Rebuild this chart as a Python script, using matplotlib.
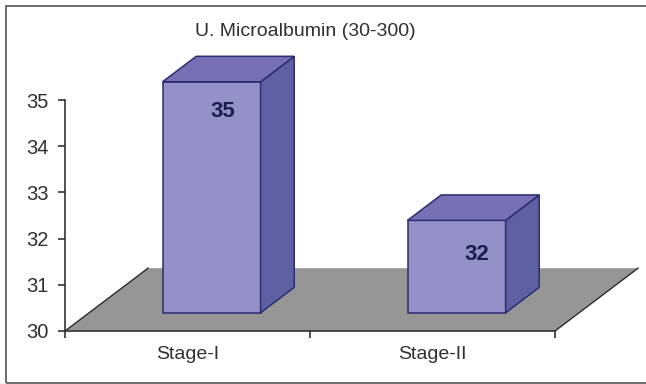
import matplotlib
matplotlib.use('Agg')
import matplotlib.pyplot as plt
from matplotlib.patches import Polygon, Rectangle

categories = ['Stage-I', 'Stage-II']
values = [35, 32]
yticks = [30, 31, 32, 33, 34, 35]
title = 'U. Microalbumin (30-300)'

plt.rcParams['font.family'] = ['Liberation Sans', 'DejaVu Sans']

W, H = 646, 384
fig = plt.figure(figsize=(W / 100, H / 100), dpi=100)
ax = fig.add_axes([65 / W, (H - 331) / H, 490 / W, 231 / H])
ax.set_xlim(0, 2)
ax.set_ylim(30, 35)

# depth of the fake 3d floor, in data units
floor_dx = 0.339
floor_dy = 1.36
# bar sits between these fractions of the depth
front = 0.29
back = 0.695
bar_w = 0.4

floor = Polygon([(0, 30), (2, 30), (2 + floor_dx, 30 + floor_dy), (floor_dx, 30 + floor_dy)],
                closed=True, fc='#969696', ec='none', clip_on=False, zorder=1)
ax.add_patch(floor)
ax.plot([0, floor_dx], [30, 30 + floor_dy], color='#2b2b2b', lw=1, clip_on=False, zorder=1.5)
ax.plot([2, 2 + floor_dx], [30, 30 + floor_dy], color='#2b2b2b', lw=1, clip_on=False, zorder=1.5)

edge = '#2c2c70'
label_off = [(11, -30), (20, -34)]
for i, v in enumerate(values):
    xc = i + 0.5
    x0 = xc - bar_w / 2 + floor_dx * front
    x1 = x0 + bar_w
    y0 = 30 + floor_dy * front
    y1 = y0 + (v - 30)
    ddx = floor_dx * (back - front)
    ddy = floor_dy * (back - front)
    ax.add_patch(Rectangle((x0, y0), bar_w, v - 30, fc='#9490c8', ec=edge, lw=1.1, clip_on=False, zorder=3))
    ax.add_patch(Polygon([(x1, y0), (x1 + ddx, y0 + ddy), (x1 + ddx, y1 + ddy), (x1, y1)],
                         closed=True, fc='#5f5fa3', ec=edge, lw=1.1, clip_on=False, zorder=3))
    ax.add_patch(Polygon([(x0, y1), (x0 + ddx, y1 + ddy), (x1 + ddx, y1 + ddy), (x1, y1)],
                         closed=True, fc='#7770b5', ec=edge, lw=1.1, clip_on=False, zorder=3))
    ax.annotate(str(v), xy=(x0 + bar_w / 2, y1), xytext=(label_off[i][0] * 0.72, label_off[i][1] * 0.72),
                textcoords='offset points', ha='center', va='center', fontsize=16, fontweight='bold',
                color='#1c1c50', zorder=4, annotation_clip=False)

ax.patch.set_alpha(0)
for s in ['top', 'right']:
    ax.spines[s].set_visible(False)
for s in ['left', 'bottom']:
    ax.spines[s].set_color('#333333')
    ax.spines[s].set_linewidth(1.2)
    ax.spines[s].set_zorder(2)

ax.set_yticks(yticks)
ax.set_xticks([0, 1, 2])
ax.set_xticklabels([])
ax.set_xticks([0.5, 1.5], minor=True)
ax.set_xticklabels(categories, minor=True, fontsize=14, color='#303030')
ax.tick_params(axis='x', which='minor', length=0, pad=11)
ax.tick_params(axis='x', which='major', length=5, width=1.2, color='#333333')
ax.tick_params(axis='y', length=5, width=1.2, color='#333333', labelsize=14.5, labelcolor='#303030', pad=7)

fig.text(305 / W, 1 - 32 / H, title, ha='center', va='center', fontsize=14, color='#303030')

# picture frame
fig.add_artist(Rectangle((6 / W, 1 / H), 700 / W, (H - 7) / H, transform=fig.transFigure,
                         fc='none', ec='#555555', lw=1.2))

fig.savefig('out.png', dpi=100)
